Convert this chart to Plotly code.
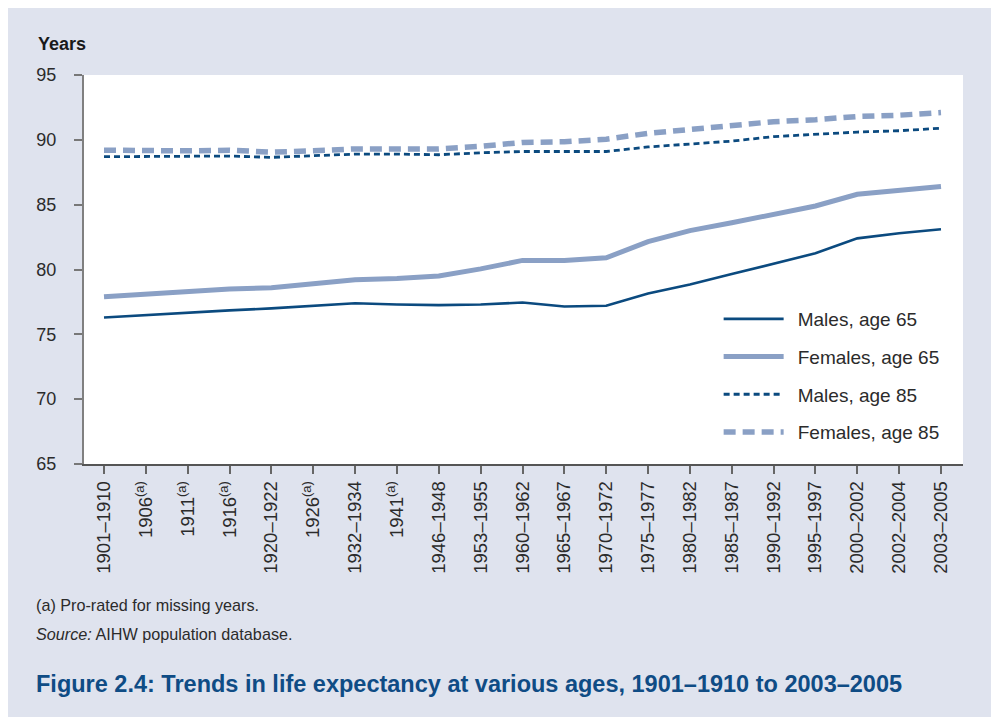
import plotly.graph_objects as go

categories = ["1901–1910", "1906<sup>(a)</sup>", "1911<sup>(a)</sup>", "1916<sup>(a)</sup>", "1920–1922",
              "1926<sup>(a)</sup>", "1932–1934", "1941<sup>(a)</sup>", "1946–1948", "1953–1955",
              "1960–1962", "1965–1967", "1970–1972", "1975–1977", "1980–1982", "1985–1987",
              "1990–1992", "1995–1997", "2000–2002", "2002–2004", "2003–2005"]

males_65 = [76.3, 76.5, 76.7, 76.85, 77.0, 77.2, 77.4, 77.3, 77.25, 77.3, 77.45, 77.15, 77.2,
            78.15, 78.85, 79.65, 80.45, 81.25, 82.4, 82.8, 83.1]
females_65 = [77.9, 78.1, 78.3, 78.5, 78.6, 78.9, 79.2, 79.3, 79.5, 80.05, 80.7, 80.7, 80.9,
              82.15, 83.0, 83.6, 84.25, 84.9, 85.8, 86.1, 86.4]
males_85 = [88.7, 88.7, 88.7, 88.75, 88.65, 88.8, 88.9, 88.9, 88.85, 89.0, 89.1, 89.1, 89.1,
            89.45, 89.7, 89.9, 90.25, 90.45, 90.6, 90.7, 90.9]
females_85 = [89.2, 89.15, 89.15, 89.2, 89.05, 89.15, 89.3, 89.3, 89.3, 89.5, 89.8, 89.85, 90.05,
              90.5, 90.8, 91.1, 91.4, 91.55, 91.8, 91.9, 92.1]

y_ticks = [65, 70, 75, 80, 85, 90, 95]

DARK = "#0b4a7f"
LIGHT = "#8aa0c5"
BG = "#dfe3ee"
TXT = "#2b2b2b"
FONT = "Liberation Sans, Arial, sans-serif"

# plot area size in px
PW, PH = 879, 389

x = list(range(len(categories)))
fig = go.Figure()
series = [
    ("Males, age 65", males_65, dict(color=DARK, width=2.6)),
    ("Females, age 65", females_65, dict(color=LIGHT, width=5)),
    ("Males, age 85", males_85, dict(color=DARK, width=2.8, dash="6px,4px")),
    ("Females, age 85", females_85, dict(color=LIGHT, width=5.5, dash="12px,7px")),
]
for i, (name, vals, line) in enumerate(series):
    fig.add_trace(go.Scatter(x=x, y=vals, mode="lines", name="\u00a0\u2009" + name, line=line,
                             legendgroup=f"g{i}"))

fig.update_layout(
    width=1010, height=717,
    paper_bgcolor=BG,
    plot_bgcolor="white",
    margin=dict(l=76, r=55, t=67, b=261),
    font=dict(family=FONT, size=18, color=TXT),
    showlegend=True,
    legend=dict(x=0.722, y=0.4216, xanchor="left", yanchor="top",
                bgcolor="rgba(0,0,0,0)", font=dict(size=19, color=TXT),
                itemwidth=60, tracegroupgap=10, traceorder="grouped"),
    annotations=[
        dict(text="<b>Years</b>", xref="paper", yref="paper", x=-48 / PW, y=1 + 31 / PH,
             xanchor="left", yanchor="middle", showarrow=False, font=dict(size=18, color="#1a1a1a")),
        dict(text="(a) Pro-rated for missing years.", xref="paper", yref="paper",
             x=-50 / PW, y=-(605 - 464) / PH, xanchor="left", yanchor="middle",
             showarrow=False, font=dict(size=16.2, color=TXT)),
        dict(text="<i>Source:</i> AIHW population database.", xref="paper", yref="paper",
             x=-50 / PW, y=-(634 - 464) / PH, xanchor="left", yanchor="middle",
             showarrow=False, font=dict(size=16.2, color=TXT)),
        dict(text="<b>Figure 2.4: Trends in life expectancy at various ages, 1901–1910 to 2003–2005</b>",
             xref="paper", yref="paper", x=-50 / PW, y=-(684 - 464) / PH,
             xanchor="left", yanchor="middle", showarrow=False,
             font=dict(size=23.5, color="#0f4c85", family=FONT)),
    ],
)
fig.update_xaxes(
    type="linear", range=[-0.478, 20.526],
    tickmode="array", tickvals=x, ticktext=categories, tickangle=-90,
    ticks="outside", ticklen=8, tickcolor="#666", tickwidth=1.5,
    showline=True, linecolor="#555", linewidth=1.5,
    showgrid=False, zeroline=False, tickfont=dict(size=18.5, color=TXT),
)
fig.update_yaxes(
    range=[65, 95], tickvals=y_ticks, ticks="outside", ticklen=8, tickcolor="#777", tickwidth=1.5,
    showline=True, linecolor="#808080", linewidth=2, ticklabelstandoff=14,
    showgrid=False, zeroline=False, tickfont=dict(size=18, color=TXT),
)
fig.write_html("out.html")
